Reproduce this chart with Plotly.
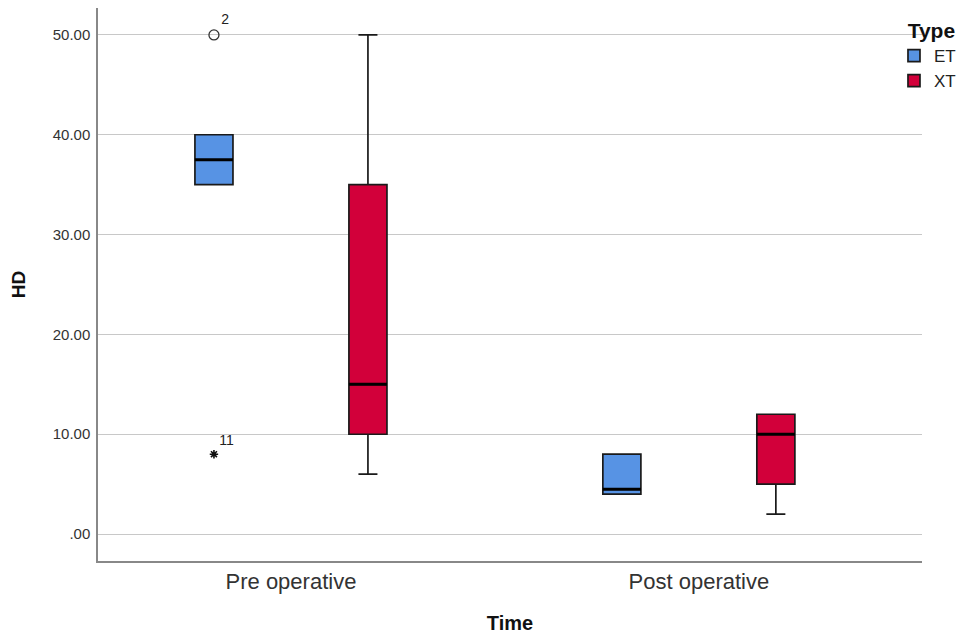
import plotly.graph_objects as go

categories = ["Pre operative", "Post operative"]
types = ["ET", "XT"]

# precomputed box stats per type, per category
et_q1 = [35, 4]
et_median = [37.5, 4.5]
et_q3 = [40, 8]
et_low = [35, 4]
et_high = [40, 8]

xt_q1 = [10, 5]
xt_median = [15, 10]
xt_q3 = [35, 12]
xt_low = [6, 2]
xt_high = [50, 12]

# outliers (ET, Pre operative)
out_cat = ["Pre operative"]
out_val = [50]
out_lab = ["2"]
ext_cat = ["Pre operative"]
ext_val = [8]
ext_lab = ["11"]

y_ticks = [0, 10, 20, 30, 40, 50]
y_ticktext = [".00", "10.00", "20.00", "30.00", "40.00", "50.00"]

colors = {"ET": "#5793E4", "XT": "#D2003A"}

fig = go.Figure()
stats = [
    ("ET", et_q1, et_median, et_q3, et_low, et_high),
    ("XT", xt_q1, xt_median, xt_q3, xt_low, xt_high),
]
for name, q1, med, q3, lo, hi in stats:
    fig.add_trace(go.Box(
        name=name, x=categories, q1=q1, median=med, q3=q3,
        lowerfence=lo, upperfence=hi, offsetgroup=name,
        fillcolor=colors[name], line=dict(color="#1a1a1a", width=1.7),
        whiskerwidth=0.5, boxpoints=False, hoverinfo="skip",
    ))
# thicker median lines drawn over the boxes
for name, q1, med, q3, lo, hi in stats:
    fig.add_trace(go.Box(
        name=name, x=categories, q1=med, median=med, q3=med,
        lowerfence=med, upperfence=med, offsetgroup=name,
        fillcolor="rgba(0,0,0,0)", line=dict(color="#000000", width=3),
        whiskerwidth=0, boxpoints=False, hoverinfo="skip", showlegend=False,
    ))

fig.add_trace(go.Scatter(
    x=out_cat, y=out_val, text=out_lab, mode="markers+text",
    offsetgroup="ET", textposition="top right",
    marker=dict(symbol="circle-open", size=10, color="#333333", line=dict(width=1.3)),
    textfont=dict(size=14, color="#222222"), showlegend=False,
))
fig.add_trace(go.Scatter(
    x=ext_cat, y=ext_val, text=ext_lab, mode="markers+text",
    offsetgroup="ET", textposition="top right",
    marker=dict(symbol="asterisk-open", size=7, color="#111111", line=dict(width=1.6, color="#111111")),
    textfont=dict(size=14, color="#222222"), showlegend=False,
))
fig.add_trace(go.Scatter(
    x=[], y=[], offsetgroup="XT", mode="markers", showlegend=False,
))

# the page body adds an 8px offset, so the figure is sized to fit the window
fig.update_layout(
    width=957, height=629,
    margin=dict(l=90, r=43, t=0, b=76),
    plot_bgcolor="white", paper_bgcolor="white",
    font=dict(family="Liberation Sans, Arial, sans-serif", color="#222222"),
    boxmode="group", boxgap=0.245, boxgroupgap=0.753,
    scattermode="group", scattergap=0.245,
    legend=dict(
        title=dict(text="<b>&nbsp;&nbsp;Type</b>", font=dict(size=21, color="#111111")),
        x=0.966, y=0.995, xanchor="left", yanchor="top",
        font=dict(size=17, color="#222222"), tracegroupgap=0,
        itemwidth=30, bgcolor="rgba(0,0,0,0)",
    ),
    xaxis=dict(
        type="category", categoryorder="array", categoryarray=categories,
        range=[-0.473, 1.547], showline=True, linecolor="#888888", linewidth=1.5,
        showgrid=False, ticks="", tickfont=dict(size=22, color="#333333"),
        ticklabelstandoff=0, automargin=False,
        title=dict(text="<b>Time</b>", font=dict(size=20, color="#111111"), standoff=23),
        zeroline=False,
    ),
    yaxis=dict(
        range=[-2.7, 52.7], tickvals=y_ticks, ticktext=y_ticktext,
        showline=True, linecolor="#888888", linewidth=1.5,
        showgrid=True, gridcolor="#C8C8C8", gridwidth=1.3,
        ticks="inside", ticklen=6, tickcolor="#C8C8C8",
        tickfont=dict(size=15, color="#333333"), ticklabelstandoff=3, automargin=False,
        title=dict(text="<b>HD</b>", font=dict(size=19, color="#111111"), standoff=24),
        zeroline=False,
    ),
)

fig.write_html("out.html")
